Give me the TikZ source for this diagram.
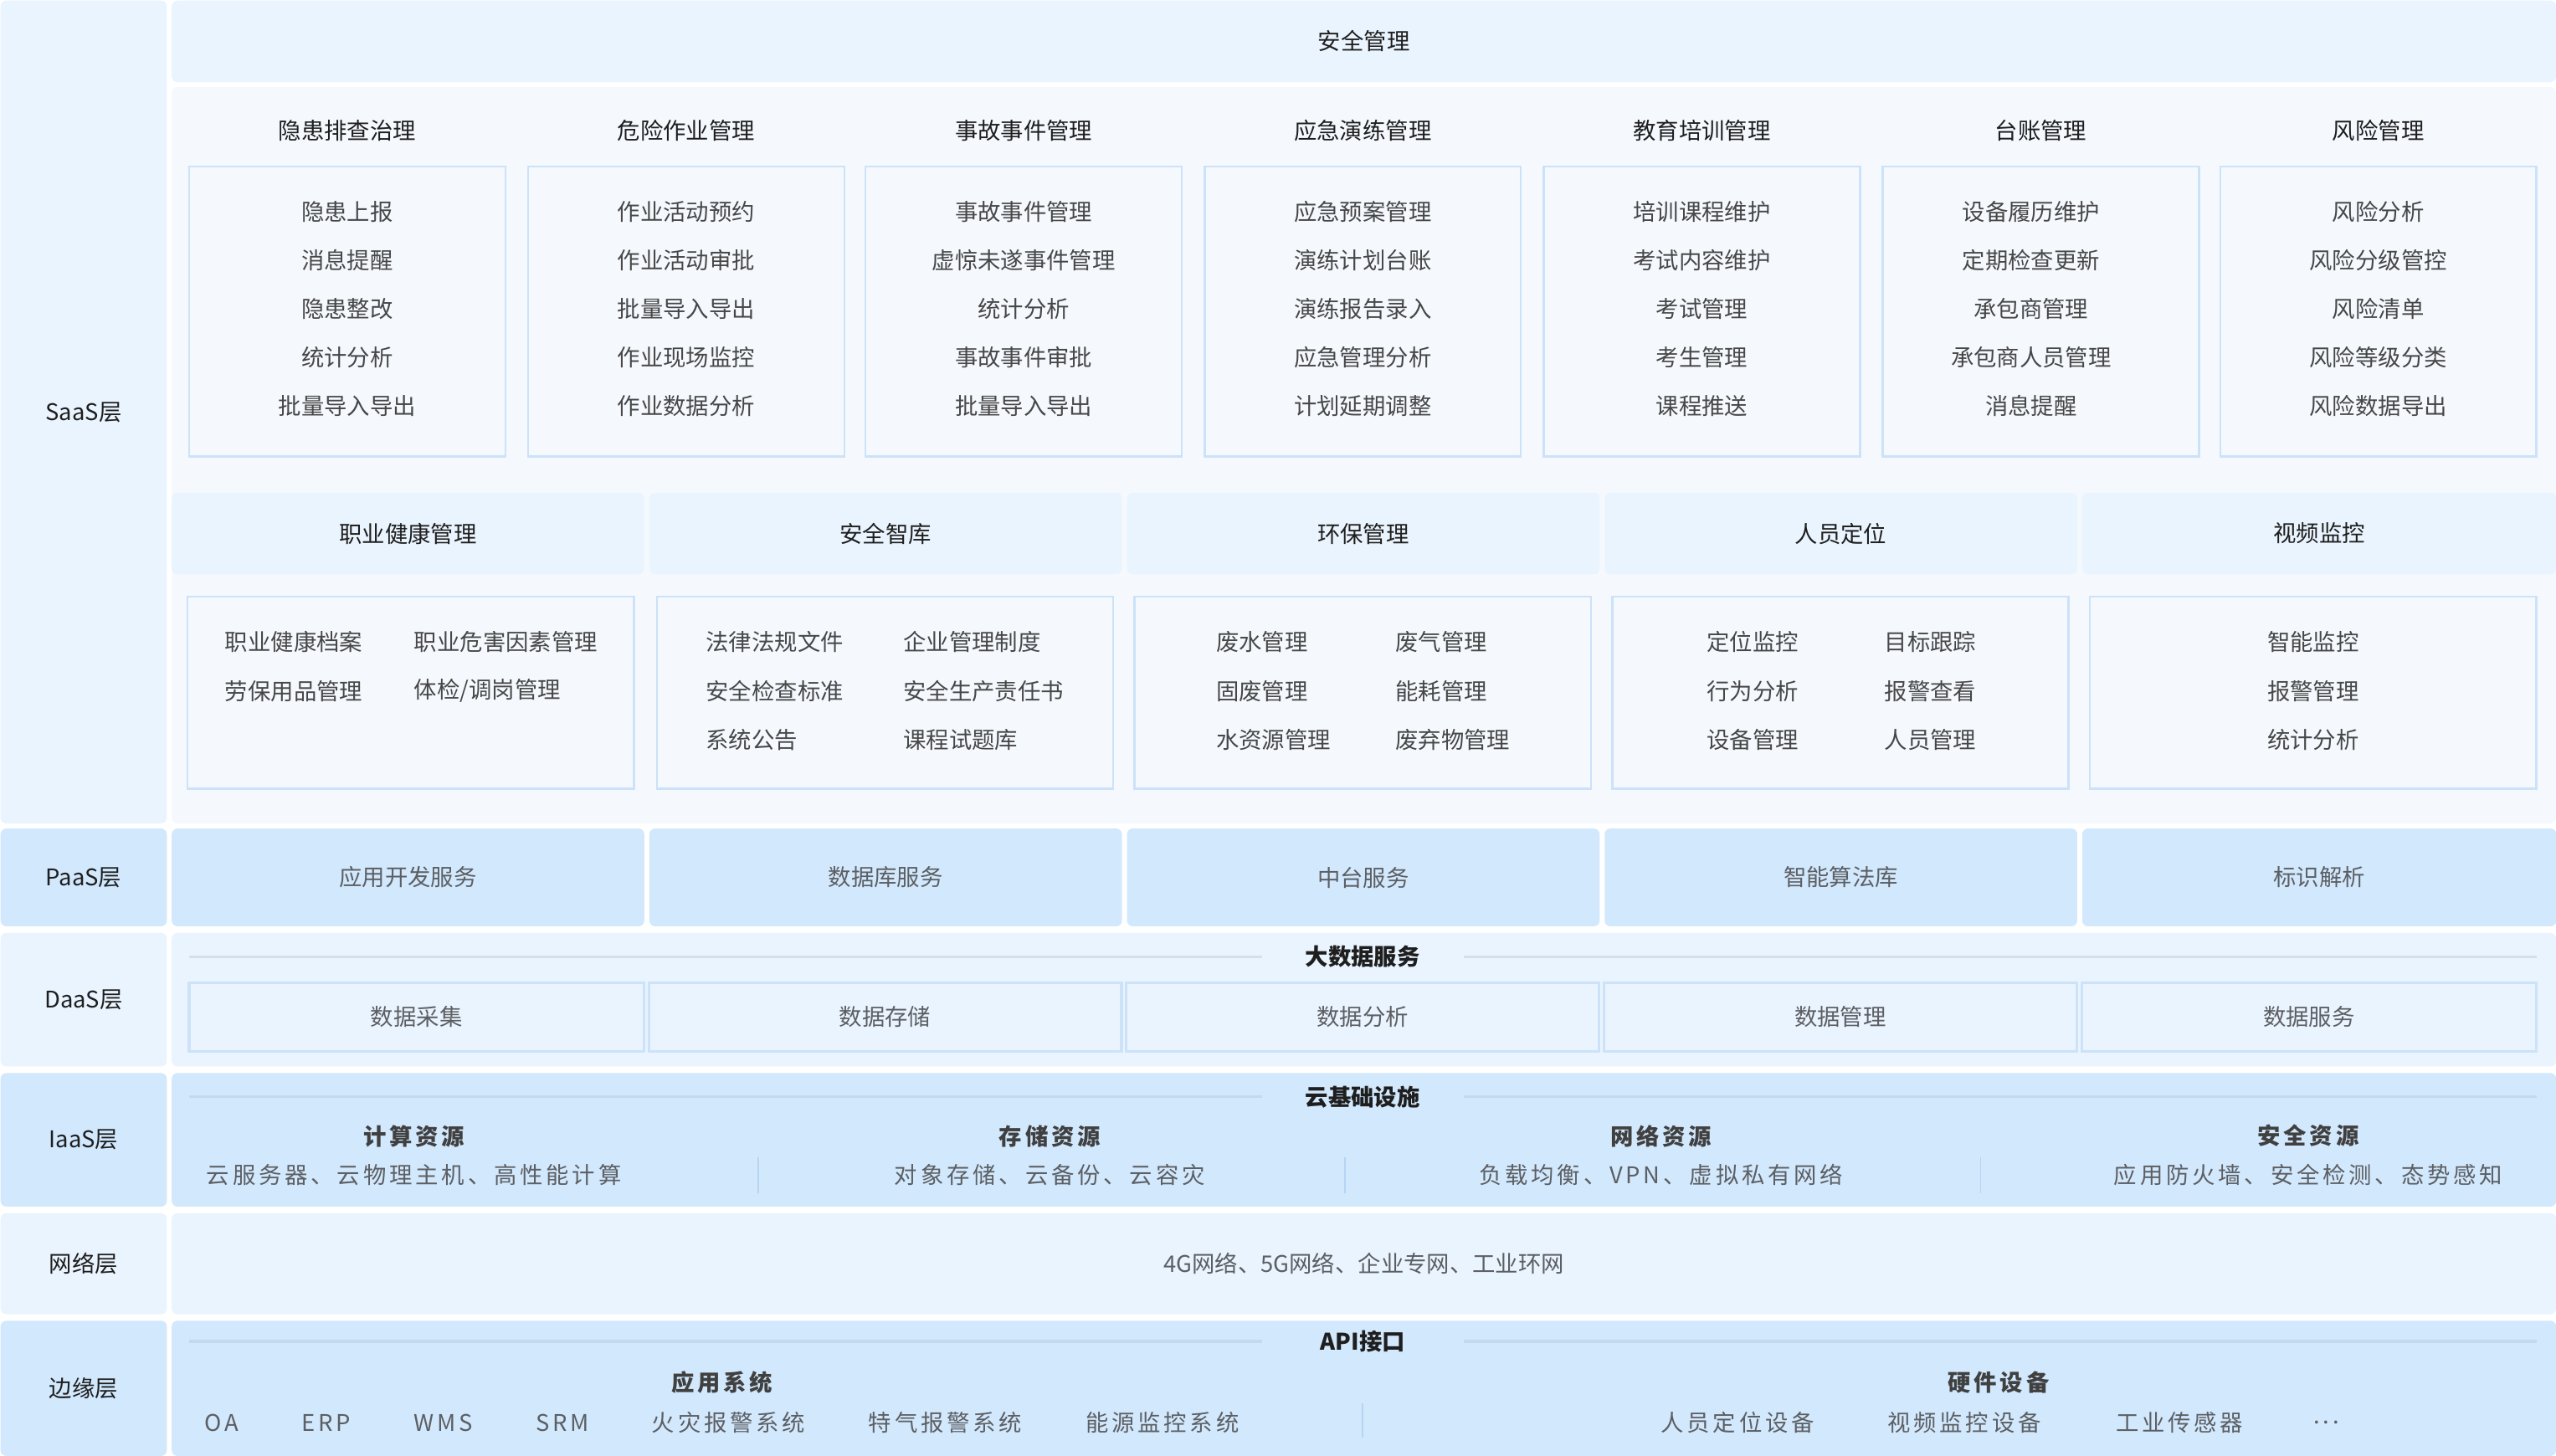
\documentclass[tikz,border=0pt]{standalone}
\usepackage{fontspec}
\setmainfont{Noto Sans CJK SC}
\newfontfamily\spacedfont[LetterSpace=14]{Noto Sans CJK SC}
\usetikzlibrary{positioning}
\definecolor{bandLight}{HTML}{EAF4FE}
\definecolor{bandDark}{HTML}{D2E8FD}
\definecolor{bodyFill}{HTML}{F5F9FE}
\definecolor{boxStroke}{HTML}{CCE2F8}
\definecolor{ruleLine}{HTML}{D3DFEB}
\definecolor{ruleDark}{HTML}{C2D9EF}
\definecolor{sepLine}{HTML}{B5D5F3}
\definecolor{textMain}{HTML}{1E1E1E}
\definecolor{textItem}{HTML}{474747}
\definecolor{textMuted}{HTML}{5C5F63}

\begin{document}
\begin{tikzpicture}[
    x=0.02cm, y=-0.02cm,
    font=\fontsize{8pt}{10pt}\selectfont,
    layerCell/.style={
        rectangle, rounded corners=2pt,
        inner sep=0pt, anchor=north west,
        text=textMain
    },
    lightCell/.style={layerCell, fill=bandLight},
    darkCell/.style={layerCell, fill=bandDark},
    bodyCell/.style={layerCell, fill=bodyFill},
    paasCell/.style={darkCell, minimum width=5.8cm, minimum height=1.2cm, text=textMuted},
    moduleBox/.style={
        rectangle, draw=boxStroke, line width=0.7pt,
        fill=bodyFill, inner sep=0pt
    },
    dataBox/.style={
        rectangle, draw=boxStroke, line width=0.9pt,
        inner sep=0pt, minimum height=0.84cm, text=textMuted
    },
    title/.style={text=textMain},
    item/.style={text=textItem, inner sep=1pt},
    sectionTitle/.style={font=\fontsize{8pt}{10pt}\selectfont\bfseries, text=textMain,
        minimum width=2.46cm, inner sep=0pt},
    groupTitle/.style={font=\fontsize{8pt}{10pt}\spacedfont\bfseries, text=textMain!85},
    spacedItem/.style={font=\fontsize{8pt}{10pt}\spacedfont, text=textMuted},
    rule/.style={draw=ruleLine, line width=0.9pt},
    sep/.style={draw=sepLine, line width=0.5pt}
]
\path[fill=white] (0,0) rectangle (1568,893);
\useasboundingbox (0,0) rectangle (1568,893);

% layer labels
\node[lightCell, minimum width=2.04cm, minimum height=10.1cm] (saasLayer) at (0,0) {SaaS层};
\node[darkCell, minimum width=2.04cm, minimum height=1.2cm] (paasLayer) at (0,508) {PaaS层};
\node[lightCell, minimum width=2.04cm, minimum height=1.64cm] (daasLayer) at (0,572) {DaaS层};
\node[darkCell, minimum width=2.04cm, minimum height=1.64cm] (iaasLayer) at (0,658) {IaaS层};
\node[lightCell, minimum width=2.04cm, minimum height=1.24cm] (netLayer) at (0,744) {网络层};
\node[darkCell, minimum width=2.04cm, minimum height=1.66cm] (edgeLayer) at (0,810) {边缘层};

% SaaS
\node[lightCell, minimum width=29.26cm, minimum height=1cm] (safetyHead) at (105,0) {安全管理};
\node[bodyCell, minimum width=29.26cm, minimum height=9.04cm] (saasBody) at (105,53) {};

\node[title] (hazardTitle) at (213,80) {隐患排查治理};
\node[title] (dangerTitle) at (421,80) {危险作业管理};
\node[title] (accidentTitle) at (628,80) {事故事件管理};
\node[title] (drillTitle) at (836,80) {应急演练管理};
\node[title] (trainTitle) at (1044,80) {教育培训管理};
\node[title] (ledgerTitle) at (1252,80) {台账管理};
\node[title] (riskTitle) at (1459,80) {风险管理};

\node[moduleBox, minimum width=3.88cm, minimum height=3.56cm] (hazardBox) at (213,191) {};
\node[moduleBox, minimum width=3.88cm, minimum height=3.56cm] (dangerBox) at (421,191) {};
\node[moduleBox, minimum width=3.88cm, minimum height=3.56cm] (accidentBox) at (628,191) {};
\node[moduleBox, minimum width=3.88cm, minimum height=3.56cm] (drillBox) at (836,191) {};
\node[moduleBox, minimum width=3.88cm, minimum height=3.56cm] (trainBox) at (1044,191) {};
\node[moduleBox, minimum width=3.88cm, minimum height=3.56cm] (ledgerBox) at (1252,191) {};
\node[moduleBox, minimum width=3.88cm, minimum height=3.56cm] (riskBox) at (1459,191) {};

\foreach \t [count=\i] in {隐患上报,消息提醒,隐患整改,统计分析,批量导入导出}
  \node[item] (hazard\i) at (213,100.25+29.75*\i) {\t};
\foreach \t [count=\i] in {作业活动预约,作业活动审批,批量导入导出,作业现场监控,作业数据分析}
  \node[item] (danger\i) at (421,100.25+29.75*\i) {\t};
\foreach \t [count=\i] in {事故事件管理,虚惊未遂事件管理,统计分析,事故事件审批,批量导入导出}
  \node[item] (accident\i) at (628,100.25+29.75*\i) {\t};
\foreach \t [count=\i] in {应急预案管理,演练计划台账,演练报告录入,应急管理分析,计划延期调整}
  \node[item] (drill\i) at (836,100.25+29.75*\i) {\t};
\foreach \t [count=\i] in {培训课程维护,考试内容维护,考试管理,考生管理,课程推送}
  \node[item] (train\i) at (1044,100.25+29.75*\i) {\t};
\foreach \t [count=\i] in {设备履历维护,定期检查更新,承包商管理,承包商人员管理,消息提醒}
  \node[item] (ledger\i) at (1246,100.25+29.75*\i) {\t};
\foreach \t [count=\i] in {风险分析,风险分级管控,风险清单,风险等级分类,风险数据导出}
  \node[item] (risk\i) at (1459,100.25+29.75*\i) {\t};

\node[lightCell, minimum width=5.8cm, minimum height=1cm] (healthHead) at (105,302) {职业健康管理};
\node[lightCell, minimum width=5.8cm, minimum height=1cm] (libraryHead) at (398,302) {安全智库};
\node[lightCell, minimum width=5.8cm, minimum height=1cm] (envHead) at (691,302) {环保管理};
\node[lightCell, minimum width=5.8cm, minimum height=1cm] (locateHead) at (984,302) {人员定位};
\node[lightCell, minimum width=5.82cm, minimum height=1cm] (videoHead) at (1277,302) {视频监控};

\node[moduleBox, minimum width=5.48cm, minimum height=2.36cm] (healthBox) at (252,425) {};
\node[moduleBox, minimum width=5.6cm, minimum height=2.36cm] (libraryBox) at (543,425) {};
\node[moduleBox, minimum width=5.6cm, minimum height=2.36cm] (envBox) at (836,425) {};
\node[moduleBox, minimum width=5.6cm, minimum height=2.36cm] (locateBox) at (1129,425) {};
\node[moduleBox, minimum width=5.48cm, minimum height=2.36cm] (videoBox) at (1419,425) {};

\foreach \t [count=\i] in {职业健康档案,劳保用品管理}
  \node[item, anchor=west] (healthA\i) at (136,364+30*\i) {\t};
\foreach \t [count=\i] in {职业危害因素管理,体检/调岗管理}
  \node[item, anchor=west] (healthB\i) at (252,364+30*\i) {\t};
\foreach \t [count=\i] in {法律法规文件,安全检查标准,系统公告}
  \node[item, anchor=west] (libraryA\i) at (431,364+30*\i) {\t};
\foreach \t [count=\i] in {企业管理制度,安全生产责任书,课程试题库}
  \node[item, anchor=west] (libraryB\i) at (552,364+30*\i) {\t};
\foreach \t [count=\i] in {废水管理,固废管理,水资源管理}
  \node[item, anchor=west] (envA\i) at (744,364+30*\i) {\t};
\foreach \t [count=\i] in {废气管理,能耗管理,废弃物管理}
  \node[item, anchor=west] (envB\i) at (854,364+30*\i) {\t};
\foreach \t [count=\i] in {定位监控,行为分析,设备管理}
  \node[item, anchor=west] (locateA\i) at (1045,364+30*\i) {\t};
\foreach \t [count=\i] in {目标跟踪,报警查看,人员管理}
  \node[item, anchor=west] (locateB\i) at (1154,364+30*\i) {\t};
\foreach \t [count=\i] in {智能监控,报警管理,统计分析}
  \node[item] (video\i) at (1419,364+30*\i) {\t};

% PaaS
\node[paasCell] (appDev) at (105,508) {应用开发服务};
\node[paasCell] (dbService) at (398,508) {数据库服务};
\node[paasCell] (midPlatform) at (691,508) {中台服务};
\node[paasCell] (algoLib) at (984,508) {智能算法库};
\node[paasCell, minimum width=5.82cm] (idParse) at (1277,508) {标识解析};

% DaaS
\node[lightCell, minimum width=29.26cm, minimum height=1.64cm] (daasBody) at (105,572) {};
\node[sectionTitle] (bigData) at (836,587) {大数据服务};
\draw[rule] (116,587) -- (bigData.west);
\draw[rule] (bigData.east) -- (1556,587);
\node[dataBox, minimum width=5.58cm] (collect) at (255.5,624) {数据采集};
\node[dataBox, minimum width=5.8cm] (store) at (543,624) {数据存储};
\node[dataBox, minimum width=5.8cm] (analyse) at (836,624) {数据分析};
\node[dataBox, minimum width=5.8cm] (manage) at (1129,624) {数据管理};
\node[dataBox, minimum width=5.58cm] (serve) at (1416.5,624) {数据服务};

% IaaS
\node[darkCell, minimum width=29.26cm, minimum height=1.64cm] (iaasBody) at (105,658) {};
\node[sectionTitle] (cloudBase) at (836,673) {云基础设施};
\draw[rule, draw=ruleDark] (116,673) -- (cloudBase.west);
\draw[rule, draw=ruleDark] (cloudBase.east) -- (1556,673);
\node[groupTitle] (computeTitle) at (254,697) {计算资源};
\node[groupTitle] (storageTitle) at (644,697) {存储资源};
\node[groupTitle] (networkTitle) at (1019,697) {网络资源};
\node[groupTitle] (securityTitle) at (1416,697) {安全资源};
\node[spacedItem] (computeText) at (254,721) {云服务器、云物理主机、高性能计算};
\node[spacedItem] (storageText) at (644,721) {对象存储、云备份、云容灾};
\node[spacedItem] (networkText) at (1019,721) {负载均衡、VPN、虚拟私有网络};
\node[spacedItem] (securityText) at (1416,721) {应用防火墙、安全检测、态势感知};
\draw[sep] (465,710) -- (465,732);
\draw[sep] (825,710) -- (825,732);
\draw[sep] (1215,710) -- (1215,732);

% network
\node[lightCell, minimum width=29.26cm, minimum height=1.24cm, text=textMuted] (netBody) at (105,744)
  {4G网络、5G网络、企业专网、工业环网};

% edge
\node[darkCell, minimum width=29.26cm, minimum height=1.66cm] (edgeBody) at (105,810) {};
\node[sectionTitle] (apiPort) at (836,823) {API接口};
\draw[rule, draw=ruleDark] (116,823) -- (apiPort.west);
\draw[rule, draw=ruleDark] (apiPort.east) -- (1556,823);
\node[groupTitle] (appSys) at (443,848) {应用系统};
\node[groupTitle] (hardware) at (1226,848) {硬件设备};
\node[spacedItem] (oa) at (136,873) {OA};
\node[spacedItem] (erp) at (200,873) {ERP};
\node[spacedItem] (wms) at (272,873) {WMS};
\node[spacedItem] (srm) at (345,873) {SRM};
\node[spacedItem] (fireAlarm) at (447,873) {火灾报警系统};
\node[spacedItem] (gasAlarm) at (580,873) {特气报警系统};
\node[spacedItem] (energyMon) at (713,873) {能源监控系统};
\node[spacedItem] (locDevice) at (1066,873) {人员定位设备};
\node[spacedItem] (videoDevice) at (1205,873) {视频监控设备};
\node[spacedItem] (sensor) at (1337,873) {工业传感器};
\node[spacedItem] (more) at (1427,873) {...};
\draw[sep] (836,861) -- (836,882);

\end{tikzpicture}
\end{document}
